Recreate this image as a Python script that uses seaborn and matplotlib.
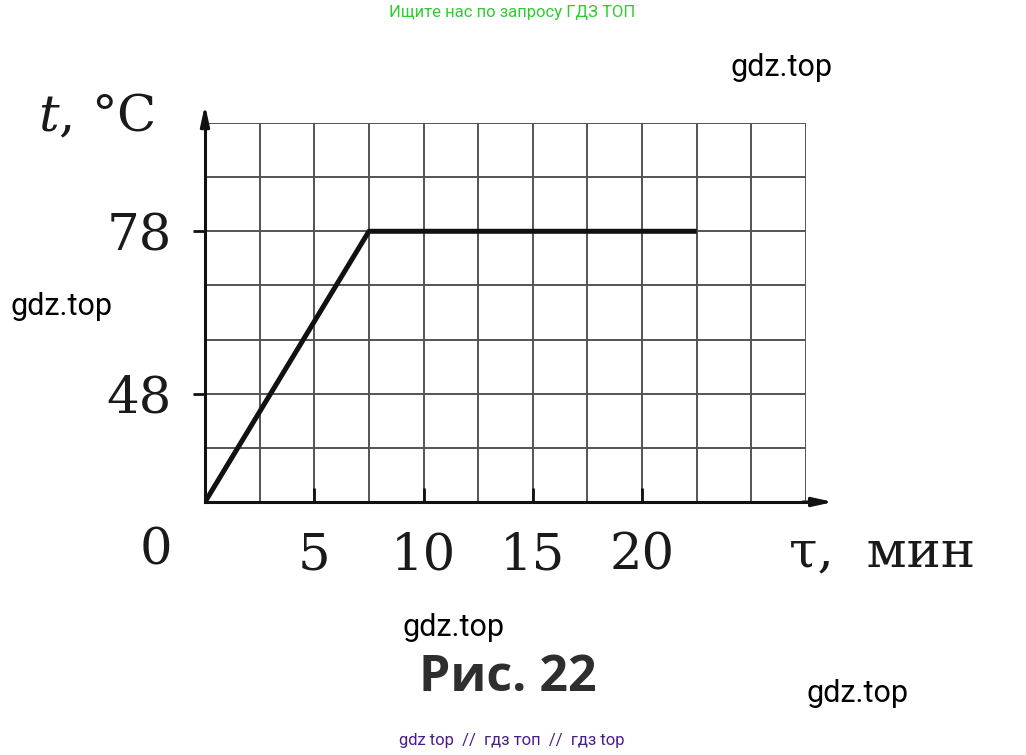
import numpy as np
import matplotlib
matplotlib.use("Agg")
import matplotlib.pyplot as plt
import seaborn as sns
import pandas as pd

# ---- data ----
time_min = [0, 7.5, 22.5]
temp_c = [28, 78, 78]
x_ticks = [5, 10, 15, 20]
x_ticklabels = ["5", "10", "15", "20"]
y_ticks = [48, 78]
y_ticklabels = ["48", "78"]
x_grid = np.arange(2.5, 27.6, 2.5)
y_grid = np.arange(38, 98.1, 10)
x_limits = (0, 27.5)
y_limits = (28, 98)

sns.set_theme(style="white")
plt.rcParams['font.family'] = ['DejaVu Serif']
plt.rcParams['mathtext.fontset'] = 'dejavuserif'

fig = plt.figure(figsize=(10.26, 7.55), dpi=100)
ax = fig.add_axes([205/1026, 1-502/755, 601/1026, 379/755])

df = pd.DataFrame({"t": time_min, "T": temp_c})
sns.lineplot(data=df, x="t", y="T", ax=ax, color="#111111", lw=3.6,
             solid_capstyle="butt", zorder=5, sort=False)

ax.set_xlim(*x_limits)
ax.set_ylim(*y_limits)

grid_color = "#545454"
ax.set_xticks(x_grid, minor=True)
ax.set_yticks(y_grid, minor=True)
ax.set_xticks(x_ticks)
ax.set_xticklabels(x_ticklabels)
ax.set_yticks(y_ticks)
ax.set_yticklabels(y_ticklabels)
ax.grid(True, which="both", color=grid_color, lw=1.4)
ax.set_axisbelow(True)

for s in ["top", "right"]:
    ax.spines[s].set_visible(False)
for s in ["left", "bottom"]:
    ax.spines[s].set_color("#111111")
    ax.spines[s].set_linewidth(2.2)
    ax.spines[s].set_zorder(6)

ax.tick_params(axis="y", which="major", direction="out", length=9, width=2,
               color="#111111", labelsize=37, pad=15, left=True)
ax.tick_params(axis="x", which="major", direction="in", length=10, width=2,
               color="#111111", labelsize=37, pad=21, bottom=True)
ax.tick_params(which="minor", length=0)
for lab in ax.get_xticklabels() + ax.get_yticklabels():
    lab.set_color("#1a1a1a")

ax.set_xlabel("")
ax.set_ylabel("")

# axis arrows
ax.annotate("", xy=(1.05, 0), xytext=(0.99, 0), xycoords="axes fraction",
            arrowprops=dict(arrowstyle="-|>,head_length=1.0,head_width=0.22",
                            lw=2.2, color="#111111"), annotation_clip=False)
ax.annotate("", xy=(0, 1.055), xytext=(0, 0.99), xycoords="axes fraction",
            arrowprops=dict(arrowstyle="-|>,head_length=1.0,head_width=0.22",
                            lw=2.2, color="#111111"), annotation_clip=False)

# origin label and axis titles
fig.text(156/1026, 1-551/755, "0", fontsize=37, ha="center", va="center",
         color="#1a1a1a")
fig.text(155/1026, 1-118/755, r"$t$, °C", fontsize=37, ha="right",
         va="center", color="#1a1a1a")
fig.text(975/1026, 1-553/755, "τ,  мин", fontsize=37, ha="right", va="center",
         color="#1a1a1a")

# caption
fig.text(508/1026, 1-678/755, "Рис. 22", fontsize=36, ha="center", va="center",
         color="#2e2e2e", family="Open Sans", fontweight="bold")

# watermark texts
wm = dict(fontsize=22, family="Roboto", color="black", ha="center", va="center")
fig.text(782/1026, 1-68/755, "gdz.top", **wm)
fig.text(62/1026, 1-307/755, "gdz.top", **wm)
fig.text(454/1026, 1-628/755, "gdz.top", **wm)
fig.text(858/1026, 1-694/755, "gdz.top", **wm)
fig.text(512/1026, 1-12/755, "Ищите нас по запросу ГДЗ ТОП", fontsize=12,
         family="Roboto", color="#2ecc2e", ha="center", va="center")
fig.text(512/1026, 1-740/755, "gdz top  //  гдз топ  //  гдз top", fontsize=12,
         family="Roboto", color="#4b1c8c", ha="center", va="center")

fig.savefig("out.png", dpi=100, facecolor="white")
